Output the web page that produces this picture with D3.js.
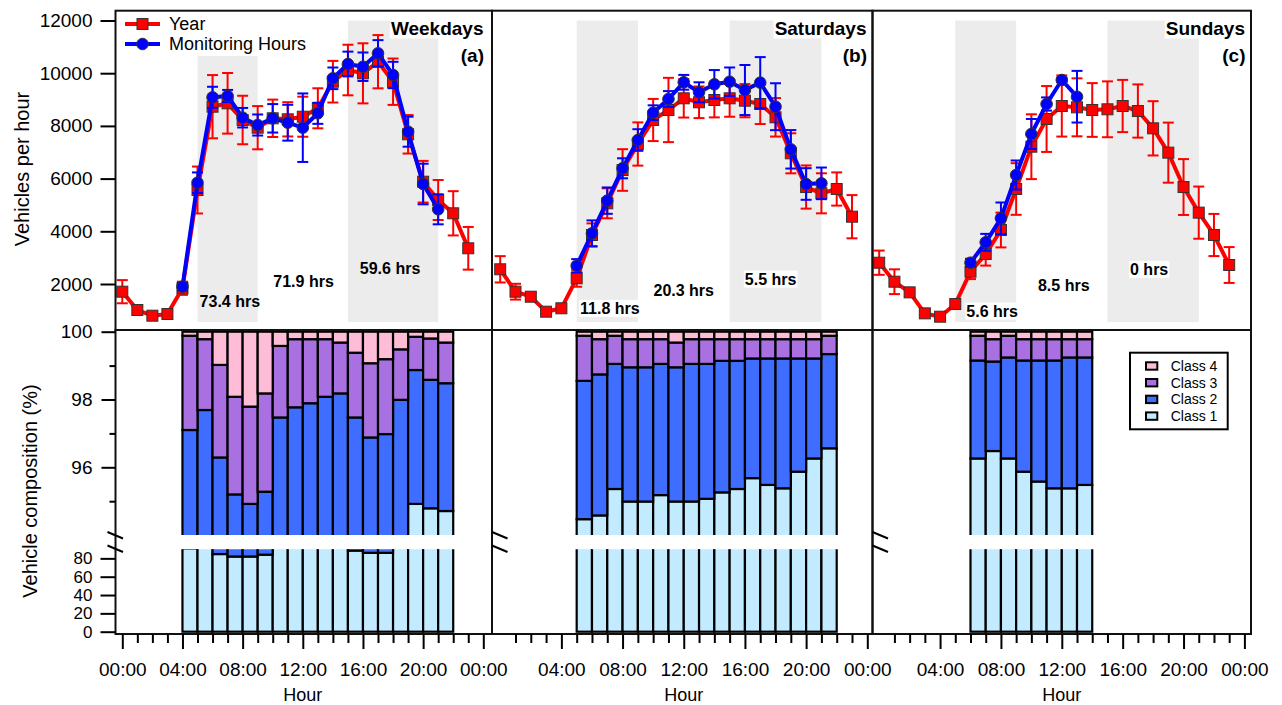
<!DOCTYPE html>
<html>
<head>
<meta charset="utf-8">
<script src="https://cdn.jsdelivr.net/npm/d3@7"></script>
<style>
  body { margin: 0; background: #fff; }
  svg { font-family: "Liberation Sans", Arial, Helvetica, sans-serif; }
</style>
</head>
<body>
<svg id="chart" width="1282" height="705"></svg>
<script>
// ---- data ----
// traffic, vehicles per hour, hour 0..23
var yearWeekday    = [1708, 1013, 797, 861, 1837, 5567, 8729, 8857, 8224, 7932, 8288, 8250, 8349, 8668, 9677, 10121, 9995, 10436, 9677, 7681, 5882, 5188, 4683, 3355]
var yearWeekdayErr = [440, 150, 100, 100, 250, 890, 1200, 1150, 920, 820, 710, 650, 760, 760, 790, 960, 1140, 1010, 880, 730, 790, 760, 840, 810]
var yearSaturday    = [2558, 1708, 1518, 949, 1078, 2216, 3860, 5063, 6326, 7313, 8224, 8604, 9047, 8896, 8983, 9047, 8957, 8831, 8326, 6960, 5680, 5442, 5605, 4554]
var yearSaturdayErr = [500, 300, 150, 80, 80, 320, 440, 570, 790, 820, 800, 1220, 730, 600, 660, 700, 630, 760, 730, 760, 820, 760, 630, 820]
var yearSunday    = [2808, 2087, 1683, 886, 759, 1240, 2467, 3138, 4049, 5605, 7211, 8262, 8755, 8705, 8604, 8630, 8755, 8565, 7908, 6985, 5680, 4708, 3860, 2721]
var yearSundayErr = [460, 470, 150, 80, 80, 100, 280, 440, 660, 980, 1230, 1250, 1160, 1100, 1020, 1060, 990, 1010, 1030, 1140, 1060, 990, 800, 680]

// monitoring hours (weekday 04-21, saturday 05-21, sunday 06-13)
var monWeekday    = [1898, 5844, 9085, 9135, 8311, 8034, 8288, 8121, 7932, 8478, 9806, 10349, 10246, 10755, 9932, 7780, 5795, 4835]
var monWeekdayErr = [150, 390, 400, 230, 370, 400, 540, 680, 1300, 400, 410, 470, 540, 500, 500, 570, 770, 570]
var monSaturday    = [2694, 3924, 5164, 6391, 7465, 8501, 9021, 9655, 9275, 9579, 9677, 9362, 9641, 8729, 7111, 5795, 5820]
var monSaturdayErr = [250, 490, 500, 380, 410, 280, 300, 280, 380, 540, 540, 950, 970, 890, 730, 600, 600]
var monSunday    = [2808, 3582, 4493, 6137, 7693, 8831, 9742, 9108]
var monSundayErr = [150, 320, 600, 550, 570, 250, 80, 980]

// vehicle composition (%), same hours as monitoring
var class1Weekday = [91.0, 92.0, 84.7, 82.0, 82.0, 84.0, 92.0, 92.0, 92.0, 92.0, 92.0, 88.5, 86.0, 86.0, 92.0, 94.92, 94.79, 94.71]
var class2Weekday = [6.10, 5.69, 11.59, 13.20, 12.92, 11.28, 5.47, 5.77, 5.89, 6.08, 6.18, 8.97, 10.88, 10.98, 5.99, 3.95, 3.79, 3.77]
var class3Weekday = [2.78, 2.09, 2.73, 2.88, 2.87, 2.90, 2.11, 2.01, 1.89, 1.70, 1.50, 1.91, 2.19, 2.21, 1.49, 0.98, 1.22, 1.20]
var class4Weekday = [0.12, 0.22, 0.98, 1.92, 2.21, 1.82, 0.42, 0.22, 0.22, 0.22, 0.32, 0.62, 0.93, 0.81, 0.52, 0.15, 0.20, 0.32]

var class1Saturday = [94.47, 94.58, 95.36, 94.99, 94.99, 95.18, 94.99, 94.99, 95.07, 95.26, 95.36, 95.68, 95.48, 95.38, 95.87, 96.26, 96.56]
var class2Saturday = [4.08, 4.16, 3.69, 3.96, 3.96, 3.87, 3.96, 4.06, 3.98, 3.88, 3.78, 3.53, 3.73, 3.83, 3.34, 2.95, 2.78]
var class3Saturday = [1.33, 1.04, 0.83, 0.83, 0.83, 0.73, 0.73, 0.73, 0.73, 0.64, 0.64, 0.57, 0.57, 0.57, 0.57, 0.57, 0.54]
var class4Saturday = [0.12, 0.22, 0.12, 0.22, 0.22, 0.22, 0.32, 0.22, 0.22, 0.22, 0.22, 0.22, 0.22, 0.22, 0.22, 0.22, 0.12]

var class1Sunday = [96.26, 96.48, 96.26, 95.87, 95.58, 95.38, 95.38, 95.48]
var class2Sunday = [2.89, 2.64, 2.98, 3.28, 3.57, 3.77, 3.86, 3.76]
var class3Sunday = [0.73, 0.66, 0.64, 0.63, 0.63, 0.63, 0.54, 0.54]
var class4Sunday = [0.12, 0.22, 0.12, 0.22, 0.22, 0.22, 0.22, 0.22]

var hrsWeekday  = ['73.4 hrs', '71.9 hrs', '59.6 hrs']
var hrsSaturday = ['11.8 hrs', '20.3 hrs', '5.5 hrs']
var hrsSunday   = ['5.6 hrs', '8.5 hrs', '0 hrs']

var shadeHours = [[5, 9], [15, 21]]
var classNames = ['Class 1', 'Class 2', 'Class 3', 'Class 4']
var classColors = ['#c2ebff', '#3e6dff', '#a970e2', '#ffbcd6']
var topTicks = [2000, 4000, 6000, 8000, 10000, 12000]
var upTicks = [95, 96, 97, 98, 99, 100]
var lowTicks = [0, 20, 40, 60, 80]

// ---- layout ----
var svg = d3.select('#chart')
var topY0 = 10.7, topY1 = 330, botY1 = 634
var red = '#ff0000', blue = '#0000ff'

var yTop = d3.scaleLinear().domain([0, 12000]).range([336.7, 20.5])
var yUp  = d3.scaleLinear().domain([94, 100]).range([535.1, 331.7])
var yLow = d3.scaleLinear().domain([0, 90]).range([631.7, 549.2])

var panels = [
  {id: 'a', title: 'Weekdays', tag: '(a)', frame: [115.5, 492], range: [122.3, 483.3], titleX: 483.5,
   year: yearWeekday, yearErr: yearWeekdayErr, monStart: 4, mon: monWeekday, monErr: monWeekdayErr,
   comp: [class1Weekday, class2Weekday, class3Weekday, class4Weekday],
   hrs: hrsWeekday, hrsPos: [[7.15, 301.7], [12.05, 281.7], [17.8, 268.3]], hrsBox: false, firstTick: 0},
  {id: 'b', title: 'Saturdays', tag: '(b)', frame: [492, 872.5], range: [500.2, 867.3], titleX: 866.5,
   year: yearSaturday, yearErr: yearSaturdayErr, monStart: 5, mon: monSaturday, monErr: monSaturdayErr,
   comp: [class1Saturday, class2Saturday, class3Saturday, class4Saturday],
   hrs: hrsSaturday, hrsPos: [[7.17, 308.3], [12.0, 290.7], [17.68, 279]], hrsBox: true, firstTick: 1},
  {id: 'c', title: 'Sundays', tag: '(c)', frame: [872.5, 1251], range: [879.2, 1244.4], titleX: 1245,
   year: yearSunday, yearErr: yearSundayErr, monStart: 6, mon: monSunday, monErr: monSundayErr,
   comp: [class1Sunday, class2Sunday, class3Sunday, class4Sunday],
   hrs: hrsSunday, hrsPos: [[7.42, 311], [12.13, 285], [17.74, 269.3]], hrsBox: true, firstTick: 1}
]

function drawSeries(g, x, h0, vals, errs, color, marker){
  var pts = vals.map(function(v, i){ return {h: h0 + i, v: v, e: errs[i]} })
  g.append('path').datum(pts)
    .attr('d', d3.line().x(function(d){ return x(d.h) }).y(function(d){ return yTop(d.v) }))
    .attr('fill', 'none').attr('stroke', color).attr('stroke-width', 4).attr('stroke-linejoin', 'round')
  var eb = g.append('g').attr('stroke', color).attr('stroke-width', 2)
  pts.forEach(function(d){
    var cx = x(d.h), ya = yTop(d.v + d.e), yb = yTop(d.v - d.e)
    eb.append('line').attr('x1', cx).attr('x2', cx).attr('y1', ya).attr('y2', yb)
    eb.append('line').attr('x1', cx - 5.5).attr('x2', cx + 5.5).attr('y1', ya).attr('y2', ya)
    eb.append('line').attr('x1', cx - 5.5).attr('x2', cx + 5.5).attr('y1', yb).attr('y2', yb)
  })
  if (marker == 'square') {
    g.selectAll(null).data(pts).join('rect')
      .attr('x', function(d){ return x(d.h) - 5.5 }).attr('y', function(d){ return yTop(d.v) - 5.5 })
      .attr('width', 11).attr('height', 11)
      .attr('fill', color).attr('stroke', '#333').attr('stroke-width', 1)
  } else {
    g.selectAll(null).data(pts).join('circle')
      .attr('cx', function(d){ return x(d.h) }).attr('cy', function(d){ return yTop(d.v) }).attr('r', 5.8)
      .attr('fill', color).attr('stroke', '#333').attr('stroke-width', 1)
  }
}

function boxedText(g, x, y, txt, anchor, size, weight, box){
  var t = g.append('text').attr('x', x).attr('y', y).attr('text-anchor', anchor)
    .attr('font-size', size).attr('font-weight', weight).attr('fill', '#000').text(txt)
  if (box) {
    var b = t.node().getBBox()
    g.insert('rect', function(){ return t.node() })
      .attr('x', b.x - 1).attr('y', b.y).attr('width', b.width + 2).attr('height', b.height)
      .attr('fill', '#fff')
  }
  return t
}

panels.forEach(function(p){
  var x = d3.scaleLinear().domain([0, 24]).range(p.range)
  var g = svg.append('g').attr('class', 'panel-' + p.id)

  // shaded monitoring periods
  g.selectAll('rect.shade').data(shadeHours).join('rect').attr('class', 'shade')
    .attr('x', function(d){ return x(d[0]) }).attr('width', function(d){ return x(d[1]) - x(d[0]) })
    .attr('y', yTop(12000)).attr('height', yTop(560) - yTop(12000))
    .attr('fill', '#ececec')

  // hours labels
  p.hrs.forEach(function(s, i){
    boxedText(g, x(p.hrsPos[i][0]), p.hrsPos[i][1] + 5.6, s, 'middle', 16, 'bold', p.hrsBox)
  })

  // title
  boxedText(g, p.titleX, 34.5, p.title, 'end', 19, 'bold', true)
  g.append('text').attr('x', p.titleX + 0.5).attr('y', 61.5).attr('text-anchor', 'end')
    .attr('font-size', 19).attr('font-weight', 'bold').text(p.tag)

  // legend (weekdays only)
  if (p.id == 'a') {
    var lg = g.append('g')
    lg.append('rect').attr('x', 121).attr('y', 12).attr('width', 190).attr('height', 44).attr('fill', '#fff')
    var items = [['Year', red, 'square', 24], ['Monitoring Hours', blue, 'circle', 44]]
    items.forEach(function(it){
      lg.append('line').attr('x1', 125).attr('x2', 160).attr('y1', it[3]).attr('y2', it[3])
        .attr('stroke', it[1]).attr('stroke-width', 4)
      if (it[2] == 'square')
        lg.append('rect').attr('x', 137).attr('y', it[3] - 5.5).attr('width', 11).attr('height', 11)
          .attr('fill', it[1]).attr('stroke', '#333')
      else
        lg.append('circle').attr('cx', 142.5).attr('cy', it[3]).attr('r', 5.8).attr('fill', it[1]).attr('stroke', '#333')
      lg.append('text').attr('x', 169).attr('y', it[3]).attr('dy', '0.35em').attr('font-size', 18).text(it[0])
    })
  }

  drawSeries(g.append('g'), x, 0, p.year, p.yearErr, red, 'square')
  drawSeries(g.append('g'), x, p.monStart, p.mon, p.monErr, blue, 'circle')

  // frames
  g.append('rect').attr('x', p.frame[0]).attr('y', topY0)
    .attr('width', p.frame[1] - p.frame[0]).attr('height', topY1 - topY0)
    .attr('fill', 'none').attr('stroke', '#111').attr('stroke-width', 2)

  // ---- composition bars (broken axis) ----
  var rows = p.comp[0].map(function(v, i){
    return {hour: p.monStart + i, c1: p.comp[0][i], c2: p.comp[1][i], c3: p.comp[2][i], c4: p.comp[3][i]}
  })
  var series = d3.stack().keys(['c1', 'c2', 'c3', 'c4'])(rows)

  var clipUp = 'clipup-' + p.id, clipLow = 'cliplow-' + p.id
  svg.append('clipPath').attr('id', clipUp).append('rect')
    .attr('x', p.frame[0]).attr('y', 326).attr('width', p.frame[1] - p.frame[0]).attr('height', yUp(94) - 326)
  svg.append('clipPath').attr('id', clipLow).append('rect')
    .attr('x', p.frame[0]).attr('y', yLow(90)).attr('width', p.frame[1] - p.frame[0]).attr('height', botY1 - yLow(90))

  var parts = [[yUp, clipUp], [yLow, clipLow]]
  parts.forEach(function(pt){
    var ys = pt[0]
    var bg = g.append('g').attr('clip-path', 'url(#' + pt[1] + ')')
    series.forEach(function(s, k){
      bg.selectAll(null).data(s).join('rect')
        .attr('x', function(d){ return x(d.data.hour) })
        .attr('width', function(d){ return x(d.data.hour + 1) - x(d.data.hour) })
        .attr('y', function(d){ return ys(d[1]) })
        .attr('height', function(d){ return Math.max(0, ys(d[0]) - ys(d[1])) })
        .attr('fill', classColors[k]).attr('stroke', '#000').attr('stroke-width', 2.2)
    })
  })

  g.append('rect').attr('x', p.frame[0]).attr('y', topY1)
    .attr('width', p.frame[1] - p.frame[0]).attr('height', botY1 - topY1)
    .attr('fill', 'none').attr('stroke', '#111').attr('stroke-width', 2)

  // break marks
  var bx = p.id == 'a' ? p.frame[0] - 8 : p.frame[0]
  ;[532, 545.5].forEach(function(by){
    g.append('line').attr('x1', bx).attr('y1', by).attr('x2', bx + 15.5).attr('y2', by + 6.5)
      .attr('stroke', '#000').attr('stroke-width', 2)
  })

  // x axis
  var xAxis = d3.axisBottom(x).tickValues(d3.range(p.firstTick, 25)).tickSizeOuter(0)
    .tickFormat(function(h){ return h % 4 == 0 ? String(h % 24).padStart(2, '0') + ':00' : '' })
  var ax = g.append('g').attr('transform', 'translate(0,' + botY1 + ')').call(xAxis)
  ax.select('.domain').remove()
  ax.selectAll('.tick line').attr('y2', function(h){ return h % 4 == 0 ? 15 : 9 })
    .attr('stroke', '#000').attr('stroke-width', 2)
  ax.selectAll('.tick text').attr('y', 29).attr('dy', '0.71em')
    .attr('font-size', 19).attr('font-family', null).attr('fill', '#000')

  g.append('text').attr('x', x(12)).attr('y', 701).attr('text-anchor', 'middle')
    .attr('font-size', 18).text('Hour')
})

// ---- y axes (left) ----
var yAxisTop = d3.axisLeft(yTop).tickValues(topTicks).tickSize(15).tickPadding(8).tickFormat(d3.format('d'))
var ay = svg.append('g').attr('transform', 'translate(115.5,0)').call(yAxisTop)
ay.select('.domain').remove()
ay.selectAll('.tick line').attr('stroke', '#000').attr('stroke-width', 2)
ay.selectAll('.tick text').attr('font-size', 19).attr('font-family', null).attr('fill', '#000')

var yAxisUp = d3.axisLeft(yUp).tickValues(upTicks).tickPadding(8)
  .tickFormat(function(d){ return d % 2 == 0 ? d : '' })
var au = svg.append('g').attr('transform', 'translate(115.5,0)').call(yAxisUp)
au.select('.domain').remove()
au.selectAll('.tick line').attr('x2', function(d){ return d % 2 == 0 ? -14 : -6 })
  .attr('stroke', '#000').attr('stroke-width', 2)
au.selectAll('.tick text').attr('x', -23).attr('font-size', 19).attr('font-family', null).attr('fill', '#000')

var yAxisLow = d3.axisLeft(yLow).tickValues(lowTicks).tickSize(15).tickPadding(8)
var al = svg.append('g').attr('transform', 'translate(115.5,0)').call(yAxisLow)
al.select('.domain').remove()
al.selectAll('.tick line').attr('stroke', '#000').attr('stroke-width', 2)
al.selectAll('.tick text').attr('font-size', 17).attr('font-family', null).attr('fill', '#000')

svg.append('text').attr('transform', 'translate(22,169) rotate(-90)').attr('text-anchor', 'middle')
  .attr('dy', '0.35em').attr('font-size', 20).text('Vehicles per hour')
svg.append('text').attr('transform', 'translate(30,491) rotate(-90)').attr('text-anchor', 'middle')
  .attr('dy', '0.35em').attr('font-size', 20).text('Vehicle composition (%)')

// ---- composition legend ----
var leg = svg.append('g').attr('transform', 'translate(1130,352.7)')
leg.append('rect').attr('width', 97.7).attr('height', 76.6).attr('fill', '#fff').attr('stroke', '#000').attr('stroke-width', 2)
d3.range(4).forEach(function(i){
  var k = 3 - i, cy = 13.3 + i * 16.7
  leg.append('rect').attr('x', 16).attr('y', cy - 3.7).attr('width', 11.3).attr('height', 7.4)
    .attr('fill', classColors[k]).attr('stroke', '#000').attr('stroke-width', 2)
  leg.append('text').attr('x', 40.7).attr('y', cy).attr('dy', '0.35em').attr('font-size', 14).text(classNames[k])
})
</script>
</body>
</html>
